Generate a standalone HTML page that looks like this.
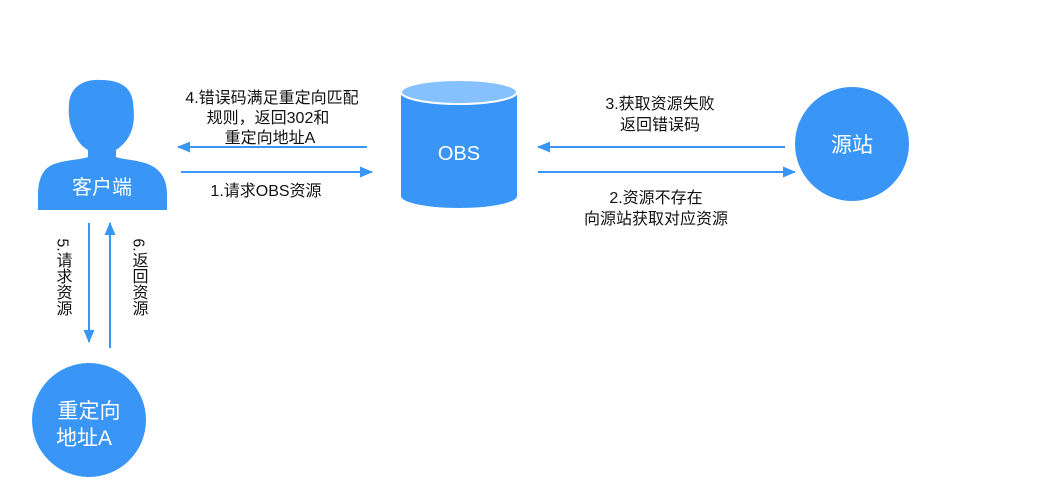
<!DOCTYPE html>
<html><head><meta charset="utf-8"><style>
body{margin:0;background:#fff;width:1046px;height:491px;overflow:hidden}
text{font-family:"Liberation Sans","Noto Sans CJK SC",sans-serif}
</style></head><body>
<svg width="1046" height="491" viewBox="0 0 1046 491" xmlns="http://www.w3.org/2000/svg">
<defs><marker id="a" markerWidth="13" markerHeight="11" refX="12" refY="5.5" orient="auto" markerUnits="userSpaceOnUse"><path d="M0,0 L13,5.5 L0,11 Z" fill="#3a96f6"/></marker></defs>
<path d="M101,80 C82,79 70,88 69,104 C68,116 70,127 74,133 C78,143 84,148 88,150 L88,157 C80,160 60,160 50,166 C40,172 38,185 38,195 L38,210 L167,210 L167,195 C167,182 163,172 152,166 C142,160 124,160 116,157 L116,150 C122,146 128,140 131,132 C135,122 134,112 133,102 C131,87 120,80 101,80 Z" fill="#3a96f6"/>
<text x="102" y="194" font-size="20" fill="#fff" text-anchor="middle">客户端</text>
<path d="M401,92 L401,196 A58,12 0 0 0 517,196 L517,92 Z" fill="#3a96f6"/>
<ellipse cx="459" cy="92" rx="58" ry="12" fill="#86c1ff" stroke="#fff" stroke-width="2"/>
<text x="459" y="160" font-size="20" fill="#fff" text-anchor="middle">OBS</text>
<circle cx="852" cy="144" r="57" fill="#3a96f6"/>
<text x="852" y="152" font-size="21" fill="#fff" text-anchor="middle">源站</text>
<circle cx="89" cy="420" r="57" fill="#3a96f6"/>
<text x="89" y="418" font-size="21" fill="#fff" text-anchor="middle">重定向</text>
<text x="84" y="445" font-size="21" fill="#fff" text-anchor="middle">地址A</text>
<g stroke="#3a96f6" stroke-width="2" marker-end="url(#a)">
<line x1="367" y1="147" x2="178" y2="147"/>
<line x1="181" y1="172" x2="372" y2="172"/>
<line x1="785" y1="147" x2="538" y2="147"/>
<line x1="538" y1="172" x2="795" y2="172"/>
<line x1="89" y1="223" x2="89" y2="342"/>
<line x1="110" y1="348" x2="110" y2="223"/>
</g>
<g font-size="16" fill="#111" text-anchor="middle">
<text x="272" y="103">4.错误码满足重定向匹配</text>
<text x="268" y="123">规则，返回302和</text>
<text x="270" y="143">重定向地址A</text>
<text x="266" y="196">1.请求OBS资源</text>
<text x="660" y="109">3.获取资源失败</text>
<text x="660" y="130">返回错误码</text>
<text x="656" y="203">2.资源不存在</text>
<text x="656" y="224">向源站获取对应资源</text>
<text x="62" y="277" writing-mode="tb" style="writing-mode:vertical-rl" text-anchor="middle">5.请求资源</text>
<text x="138" y="277" writing-mode="tb" style="writing-mode:vertical-rl" text-anchor="middle">6.返回资源</text>
</g>
</svg>
</body></html>
